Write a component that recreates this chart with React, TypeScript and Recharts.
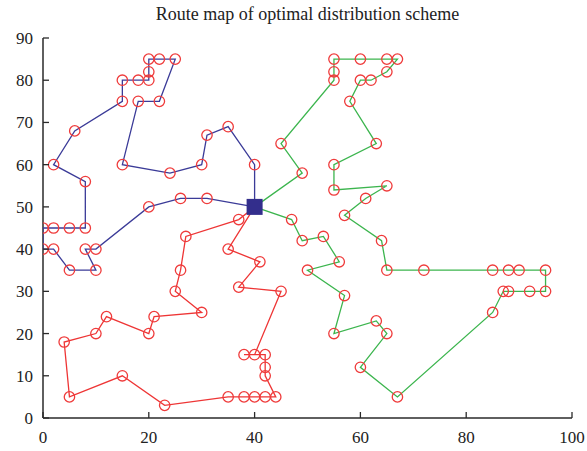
import React from 'react';
import { ComposedChart, Scatter, XAxis, YAxis } from 'recharts';

// Routes (each starts and ends at the depot)
const depot: [number, number][] = [[40, 50]];

const blueRoute: [number, number][] = [
  [40, 50], [40, 60], [35, 69], [31, 67], [30, 60], [24, 58], [15, 60], [18, 75], [22, 75],
  [25, 85], [22, 85], [20, 85], [20, 82], [20, 80], [18, 80], [15, 80], [15, 75], [6, 68],
  [2, 60], [8, 56], [8, 45], [5, 45], [2, 45], [0, 45], [0, 40], [2, 40], [5, 35], [10, 35],
  [8, 40], [10, 40], [20, 50], [26, 52], [31, 52], [40, 50],
];

const redRoute: [number, number][] = [
  [40, 50], [37, 47], [27, 43], [26, 35], [25, 30], [30, 25], [21, 24], [20, 20], [12, 24],
  [10, 20], [4, 18], [5, 5], [15, 10], [23, 3], [35, 5], [38, 5], [40, 5], [42, 5], [44, 5],
  [42, 10], [42, 12], [42, 15], [38, 15], [40, 15], [45, 30], [37, 31], [41, 37], [35, 40],
  [40, 50],
];

const greenRoute: [number, number][] = [
  [40, 50], [47, 47], [49, 42], [53, 43], [56, 37], [50, 35], [57, 29], [55, 20], [63, 23],
  [65, 20], [60, 12], [67, 5], [85, 25], [87, 30], [88, 30], [92, 30], [95, 30], [95, 35],
  [90, 35], [88, 35], [85, 35], [72, 35], [65, 35], [64, 42], [57, 48], [61, 52], [65, 55],
  [55, 54], [55, 60], [63, 65], [58, 75], [60, 80], [62, 80], [65, 82], [67, 85], [65, 85],
  [60, 85], [55, 85], [55, 82], [55, 80], [45, 65], [49, 58], [40, 50],
];

const xTicks = [0, 20, 40, 60, 80, 100];
const yTicks = [0, 10, 20, 30, 40, 50, 60, 70, 80, 90];
const title = 'Route map of optimal distribution scheme';

const FONT = '"Liberation Serif", "DejaVu Serif", serif';
const AXIS = '#2a2a2a';
const CIRCLE = '#ef3b3b';

const toData = (route: [number, number][]) =>
  route.map(([x, y], i) => ({ x, y, depot: i === 0 || i === route.length - 1 }));

const CustomerMarker = (props: any) => {
  const { cx, cy, payload } = props;
  if (payload && payload.depot) return <g />;
  return <circle cx={cx} cy={cy} r={5.2} fill="none" stroke={CIRCLE} strokeWidth={1.3} />;
};

const DepotMarker = (props: any) => {
  const { cx, cy } = props;
  return <rect x={cx - 8} y={cy - 8} width={16} height={16} fill="#332e8c" />;
};

const BottomTick = (props: any) => {
  const { x, y, payload } = props;
  return (
    <g>
      <line x1={x} y1={y} x2={x} y2={y - 6} stroke={AXIS} strokeWidth={1.3} />
      <text x={x} y={y + 25} textAnchor="middle" fontFamily={FONT} fontSize={17} fill="#222">
        {payload.value}
      </text>
    </g>
  );
};

const LeftTick = (props: any) => {
  const { x, y, payload } = props;
  return (
    <g>
      <line x1={x} y1={y} x2={x + 6} y2={y} stroke={AXIS} strokeWidth={1.3} />
      <text x={x - 10} y={y + 6} textAnchor="end" fontFamily={FONT} fontSize={17} fill="#222">
        {payload.value}
      </text>
    </g>
  );
};

const TopTick = (props: any) => {
  const { x, y } = props;
  return <line x1={x} y1={y} x2={x} y2={y + 6} stroke={AXIS} strokeWidth={1.3} />;
};

const RightTick = (props: any) => {
  const { x, y } = props;
  return <line x1={x} y1={y} x2={x - 6} y2={y} stroke={AXIS} strokeWidth={1.3} />;
};

export default function App() {
  return (
    <div style={{ position: 'absolute', left: 0, top: 0, width: 587, height: 451, background: '#fff' }}>
      <div
        style={{
          position: 'absolute',
          left: 43,
          width: 529,
          top: 3,
          textAlign: 'center',
          fontFamily: FONT,
          fontSize: 18,
          color: '#222',
          lineHeight: '22px',
        }}
      >
        {title}
      </div>
      <ComposedChart width={587} height={451} margin={{ top: 38, right: 15, bottom: 0, left: 0 }}>
        <XAxis
          dataKey="x"
          type="number"
          domain={[0, 100]}
          ticks={xTicks}
          interval={0}
          height={33}
          tickSize={0}
          tickMargin={0}
          axisLine={{ stroke: AXIS, strokeWidth: 1.5 }}
          tickLine={false}
          tick={<BottomTick />}
          allowDataOverflow
        />
        <XAxis
          xAxisId="top"
          orientation="top"
          dataKey="x"
          type="number"
          domain={[0, 100]}
          ticks={xTicks}
          interval={0}
          height={0}
          tickSize={0}
          tickMargin={0}
          axisLine={{ stroke: AXIS, strokeWidth: 1.5 }}
          tickLine={false}
          tick={<TopTick />}
          allowDataOverflow
        />
        <YAxis
          dataKey="y"
          type="number"
          domain={[0, 90]}
          ticks={yTicks}
          interval={0}
          width={43}
          tickSize={0}
          tickMargin={0}
          axisLine={{ stroke: AXIS, strokeWidth: 1.5 }}
          tickLine={false}
          tick={<LeftTick />}
          allowDataOverflow
        />
        <YAxis
          yAxisId="right"
          orientation="right"
          dataKey="y"
          type="number"
          domain={[0, 90]}
          ticks={yTicks}
          interval={0}
          width={0}
          tickSize={0}
          tickMargin={0}
          axisLine={{ stroke: AXIS, strokeWidth: 1.5 }}
          tickLine={false}
          tick={<RightTick />}
          allowDataOverflow
        />
        <Scatter
          data={toData(blueRoute)}
          dataKey="y"
          line={{ stroke: '#3b3b98', strokeWidth: 1.3 }}
          lineJointType="linear"
          shape={<CustomerMarker />}
          isAnimationActive={false}
        />
        <Scatter
          data={toData(redRoute)}
          dataKey="y"
          line={{ stroke: '#ee3535', strokeWidth: 1.3 }}
          lineJointType="linear"
          shape={<CustomerMarker />}
          isAnimationActive={false}
        />
        <Scatter
          data={toData(greenRoute)}
          dataKey="y"
          line={{ stroke: '#3cb54e', strokeWidth: 1.3 }}
          lineJointType="linear"
          shape={<CustomerMarker />}
          isAnimationActive={false}
        />
        <Scatter
          data={depot.map(([x, y]) => ({ x, y }))}
          dataKey="y"
          shape={<DepotMarker />}
          isAnimationActive={false}
        />
      </ComposedChart>
    </div>
  );
}
